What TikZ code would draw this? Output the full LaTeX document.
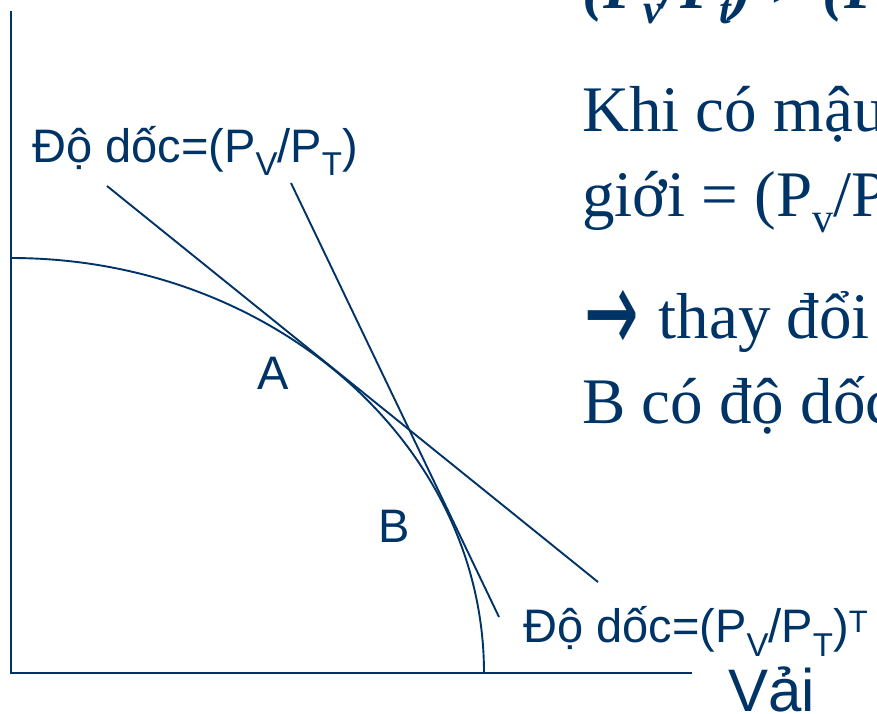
\documentclass[tikz,border=0pt]{standalone}
\usepackage{fontspec}
\usepackage{graphicx}
\setmainfont{Liberation Serif}
\newfontfamily\arialf{Liberation Sans}
\newfontfamily\dejavu{DejaVu Sans}
\definecolor{navy}{RGB}{0,51,102}
\newcommand\lo[3]{\raisebox{-#2pt}{\fontsize{#1}{#1}\selectfont #3}}
\newcommand\hi[3]{\raisebox{#2pt}{\fontsize{#1}{#1}\selectfont #3}}
\begin{document}
\begin{tikzpicture}[x=1pt,y=-1pt,
  axisline/.style={navy,line width=2.2pt},
  curveline/.style={navy,line width=1.9pt},
  sanslab/.style={navy,inner sep=0pt,anchor=base west,font=\arialf\fontsize{47}{56}\selectfont},
  seriftxt/.style={navy,inner sep=0pt,anchor=base west,font=\fontsize{65}{78}\selectfont}]
\path[use as bounding box] (0,0) rectangle (877,713);
\clip (0,0) rectangle (877,713);
% axes
\coordinate (top) at (11,11);
\coordinate (orig) at (11,673);
\coordinate (xend) at (692,673);
\draw[axisline] (top) -- (orig) -- (xend);
% production possibility curve (quarter ellipse)
\coordinate (ystart) at (11,258);
\draw[curveline] (ystart) arc[start angle=-90, end angle=0, x radius=473, y radius=415];
% tangent lines
\coordinate (t1a) at (107,186);
\coordinate (t1b) at (598,582);
\coordinate (t2a) at (291,183);
\coordinate (t2b) at (499,617);
\draw[curveline] (t1a) -- (t1b);
\draw[curveline] (t2a) -- (t2b);
% labels
\node[sanslab] (lab1) at (32,162) {Độ dốc=(P\lo{33}{13}{V}/P\lo{33}{13}{T})};
\node[sanslab] (lab2) at (523,642) {Độ dốc=(P\lo{33}{14}{V}/P\lo{33}{14}{T})\hi{31}{10}{T}};
\node[sanslab] (A) at (257,389) {A};
\node[sanslab] (B) at (378,542) {B};
\node[sanslab,font=\arialf\fontsize{60}{72}\selectfont] (vai) at (728,711) {Vải};
% right-hand text
\node[seriftxt,font=\bfseries\itshape\fontsize{65}{78}\selectfont] (l0) at (582,8) {(P\lo{42}{15}{v}/P\lo{42}{15}{t}) > (P};
\node[seriftxt] (l1) at (582,131) {Khi có mậu};
\node[seriftxt] (l2) at (582,216) {giới = (P\lo{42}{16}{v}/P};
\node[seriftxt] (l3) at (584,338) {\smash{\raisebox{-14pt}{\scalebox{1.05}[1.9]{\dejavu\fontsize{62}{62}\selectfont →}}}\hspace{20pt}thay đổi};
\node[seriftxt] (l4) at (582,423) {B có độ dốc};
\end{tikzpicture}
\end{document}
